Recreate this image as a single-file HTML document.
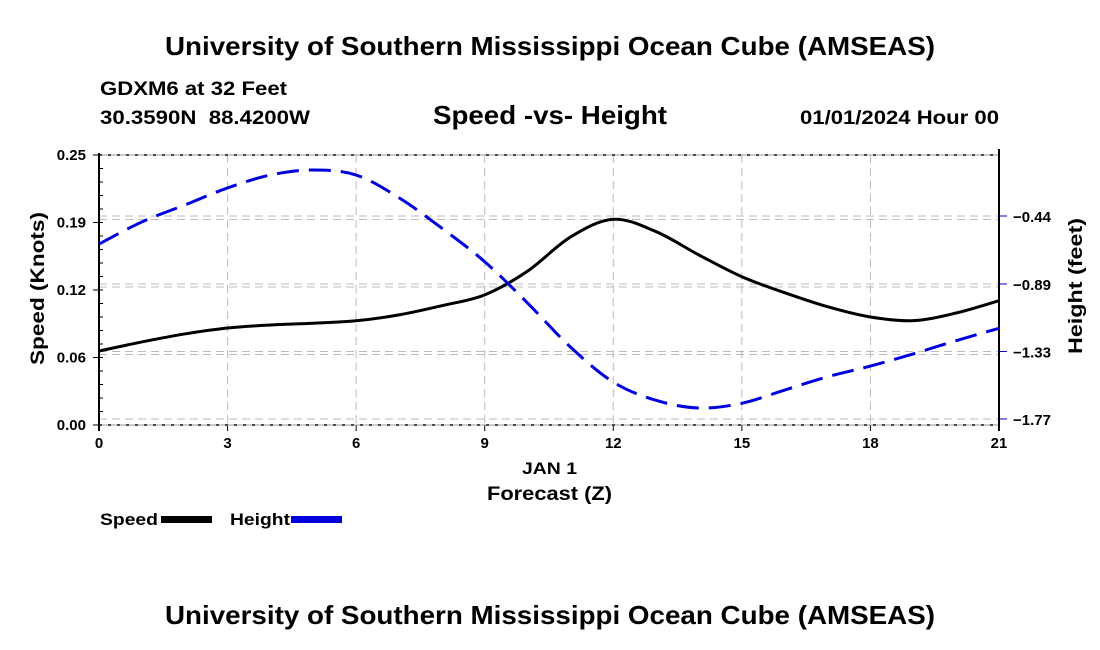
<!DOCTYPE html>
<html><head><meta charset="utf-8"><style>
body{margin:0;background:#fff;}
svg{display:block;font-family:"Liberation Sans",Arial,sans-serif;font-weight:bold;}
</style></head><body>
<svg id="c" width="1100" height="650" viewBox="0 0 1100 650">
<text x="165" y="55" font-size="26" textLength="770" lengthAdjust="spacingAndGlyphs">University of Southern Mississippi Ocean Cube (AMSEAS)</text>
<text x="100" y="95" font-size="19" textLength="187" lengthAdjust="spacingAndGlyphs">GDXM6 at 32 Feet</text>
<text x="100" y="124" font-size="19" textLength="210" lengthAdjust="spacingAndGlyphs" xml:space="preserve">30.3590N  88.4200W</text>
<text x="433" y="124" font-size="26" textLength="234" lengthAdjust="spacingAndGlyphs">Speed -vs- Height</text>
<text x="800" y="124" font-size="19" textLength="199" lengthAdjust="spacingAndGlyphs">01/01/2024 Hour 00</text>
<g id="grid"></g>
<g id="axes"></g>
<g id="series"></g>
<text x="522" y="474" font-size="17" textLength="55" lengthAdjust="spacingAndGlyphs">JAN 1</text>
<text x="487" y="500" font-size="19" textLength="125" lengthAdjust="spacingAndGlyphs">Forecast (Z)</text>
<text transform="translate(44,365) rotate(-90)" font-size="19" textLength="153" lengthAdjust="spacingAndGlyphs">Speed (Knots)</text>
<text transform="translate(1082,354) rotate(-90)" font-size="19" textLength="136" lengthAdjust="spacingAndGlyphs">Height (feet)</text>
<g>
<text x="100" y="525" font-size="17" textLength="58" lengthAdjust="spacingAndGlyphs">Speed</text>
<rect x="161" y="516" width="51" height="7" fill="#000"/>
<text x="230" y="525" font-size="17" textLength="60" lengthAdjust="spacingAndGlyphs">Height</text>
<rect x="291" y="516" width="51" height="7" fill="#0000dd"/>
</g>
<text x="165" y="624" font-size="26" textLength="770" lengthAdjust="spacingAndGlyphs">University of Southern Mississippi Ocean Cube (AMSEAS)</text>
</svg>
<script>
const hours=[0,1,2,3,4,5,6,7,8,9,10,11,12,13,14,15,16,17,18,19,20,21];
const speed=[0.0685,0.0769,0.0843,0.0898,0.0926,0.0942,0.0965,0.102,0.1105,0.1205,0.1425,0.174,0.1905,0.179,0.1574,0.1373,0.1225,0.1095,0.1,0.0966,0.1037,0.1151];
const height=[-0.624,-0.479,-0.368,-0.256,-0.171,-0.138,-0.171,-0.32,-0.52,-0.74,-1.011,-1.30,-1.53,-1.65,-1.70,-1.669,-1.582,-1.495,-1.425,-1.345,-1.258,-1.177];
const xTicks=[0,3,6,9,12,15,18,21];
const leftTicks=[0,0.0625,0.125,0.1875,0.25];
const leftLabels=["0.00","0.06","0.12","0.19","0.25"];
const rightTicks=[-0.44,-0.886,-1.329,-1.772];
const rightLabels=["\u22120.44","\u22120.89","\u22121.33","\u22121.77"];
const NS="http://www.w3.org/2000/svg";
const X0=99,X1=999,Y0=425,Y1=155;
const xs=h=>X0+h/21*(X1-X0);
const yl=v=>Y0-v/0.25*(Y0-Y1);
const yr=v=>216+(-0.44-v)/0.443*67.5;
function mk(p,t,a){const e=document.createElementNS(NS,t);for(const k in a)e.setAttribute(k,a[k]);p.appendChild(e);return e;}
const G=document.getElementById('grid'),A=document.getElementById('axes'),S=document.getElementById('series');
xTicks.forEach((h,i)=>{
 if(h>0&&h<21){const l=mk(G,'line',{x1:xs(h),x2:xs(h),y1:Y1,y2:Y0,stroke:'#bbb','stroke-dasharray':'8,5','stroke-width':1});
 
 }
 const t=mk(A,'text',{x:xs(h),y:448,'font-size':15,'text-anchor':'middle'});t.textContent=h;
 
 
 mk(A,'line',{x1:xs(h),x2:xs(h),y1:Y0,y2:Y0+6,stroke:'#000'});
});
leftTicks.forEach((v,i)=>{
 const y=yl(v);
 if(i>0&&i<4){const l=mk(G,'line',{x1:X0,x2:X1,y1:y-3,y2:y-3,stroke:'#bbb','stroke-dasharray':'8,5'});
 
 }
 mk(A,'line',{x1:X0-6,x2:X0,y1:y,y2:y,stroke:'#000'});
 const t=mk(A,'text',{x:X0-13,y:y+5,'font-size':15,'text-anchor':'end'});t.textContent=leftLabels[i];
 
 
});
for(let k=1;k<20;k++){const y=Y0-k*(Y0-Y1)/20;mk(A,'line',{x1:X0,x2:X0+4,y1:y,y2:y,stroke:'#000'});}
rightTicks.forEach((v,i)=>{
 const y=yr(v);
 const l=mk(G,'line',{x1:X0,x2:X1,y1:y,y2:y,stroke:'#bbb','stroke-dasharray':'8,5'});
 
 
 mk(A,'line',{x1:X1,x2:X1+8,y1:y,y2:y,stroke:'#0000cc'});
 const t=mk(A,'text',{x:X1+14,y:y+6,'font-size':15});t.textContent=rightLabels[i];
 
 
});
mk(A,'line',{x1:X0,x2:X1,y1:Y1,y2:Y1,stroke:'#000','stroke-width':2,'stroke-dasharray':'3,6'});
mk(A,'line',{x1:X0,x2:X1,y1:Y0,y2:Y0,stroke:'#000','stroke-width':2,'stroke-dasharray':'3,6'});
mk(A,'line',{x1:X0,x2:X1,y1:Y1,y2:Y1,stroke:'#999','stroke-width':1});
mk(A,'line',{x1:X0,x2:X1,y1:Y0,y2:Y0,stroke:'#999','stroke-width':1});
mk(A,'line',{x1:X0,x2:X0,y1:Y1-2,y2:Y0+6,stroke:'#000','stroke-width':2});
mk(A,'line',{x1:X1,x2:X1,y1:Y1-6,y2:Y0+6,stroke:'#000','stroke-width':2});
function smooth(pts){let d='M'+pts[0][0]+','+pts[0][1];
 for(let i=0;i<pts.length-1;i++){const p0=pts[Math.max(0,i-1)],p1=pts[i],p2=pts[i+1],p3=pts[Math.min(pts.length-1,i+2)];
 d+=' C'+(p1[0]+(p2[0]-p0[0])/6)+','+(p1[1]+(p2[1]-p0[1])/6)+' '+(p2[0]-(p3[0]-p1[0])/6)+','+(p2[1]-(p3[1]-p1[1])/6)+' '+p2[0]+','+p2[1];}
 return d;}
const sp=mk(S,'path',{d:smooth(hours.map((h,i)=>[xs(h),yl(speed[i])])),fill:'none',stroke:'#000','stroke-width':3});


const hp=mk(S,'path',{d:smooth(hours.map((h,i)=>[xs(h),yr(height[i])])),fill:'none',stroke:'#0000dd','stroke-width':3,'stroke-dasharray':'22,10'});


</script>
</body></html>
